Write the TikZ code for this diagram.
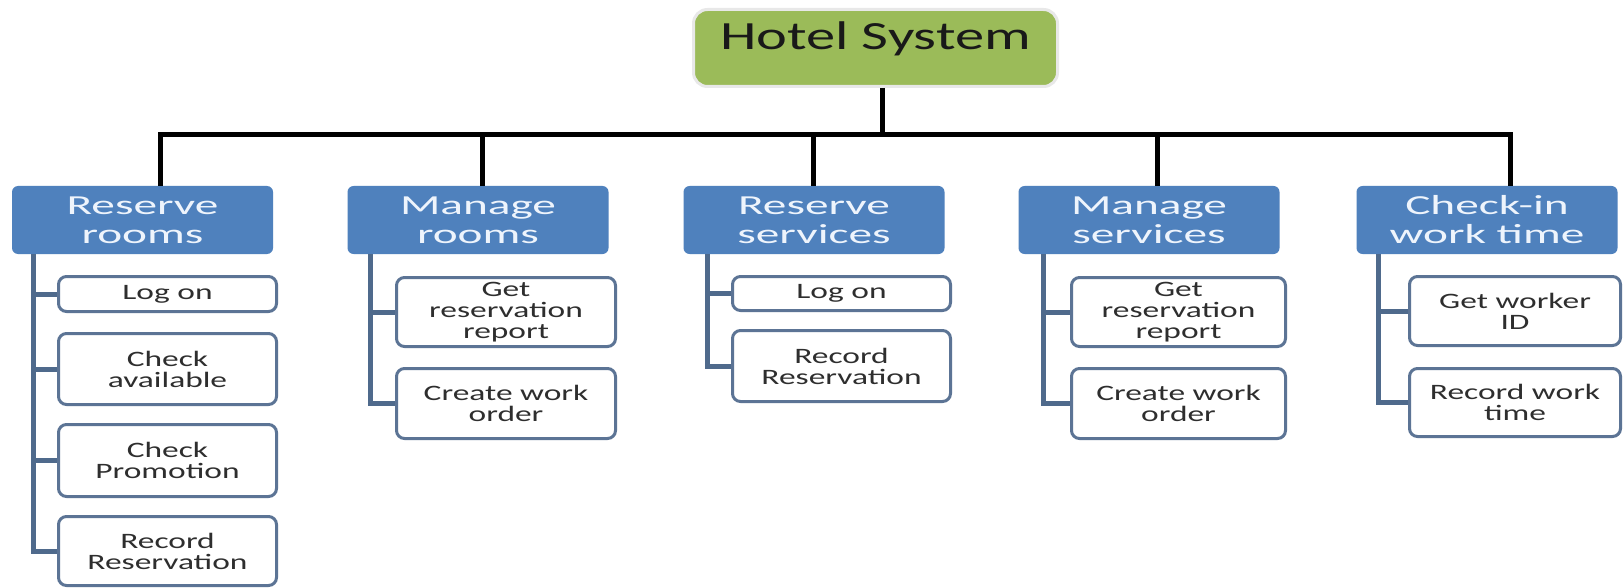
\documentclass[tikz,border=0pt]{standalone}
\usepackage{fontspec}
\setmainfont{Carlito}
\newfontfamily\topfont{Carlito}[FakeStretch=1.46]
\newfontfamily\bluefont{Carlito}[FakeStretch=1.72]
\newfontfamily\taskfont{Carlito}[FakeStretch=1.52]
\definecolor{grpblue}{HTML}{4F81BD}
\definecolor{topgreen}{HTML}{9BBB59}
\definecolor{taskedge}{HTML}{5C7495}
\definecolor{trunkcol}{HTML}{4F6A8C}
\definecolor{textgray}{HTML}{2E2E2E}
\definecolor{lighttext}{HTML}{EEF4FC}
\tikzset{
  topbox/.style={rounded corners=14pt, fill=topgreen, draw=gray!18, line width=3pt,
    minimum width=364pt, inner sep=0pt, text height=40pt, text depth=37pt,
    font=\topfont\fontsize{40}{42}\selectfont, text=black!90},
  groupbox/.style={rounded corners=6pt, fill=grpblue, text=lighttext,
    minimum width=261pt, minimum height=68pt, inner sep=0pt, align=center,
    font=\bluefont\fontsize{27.5}{29}\selectfont},
  taskbox/.style={rounded corners=8pt, fill=white, draw=taskedge, line width=3pt,
    inner sep=0pt, align=center, font=\taskfont\fontsize{22}{21}\selectfont, text=textgray},
  trunk/.style={draw=trunkcol, line width=5pt},
  link/.style={draw=black, line width=5pt, line join=miter}
}
\begin{document}
\begin{tikzpicture}[x=1pt,y=-1pt]
\useasboundingbox[fill=white] (0,0) rectangle (1624,588);
% top
\node[topbox] (top) at (875.5,48) {Hotel System};
% groups
\node[groupbox] (g1) at (142.5,220) {Reserve\\rooms};
\node[groupbox] (g2) at (478,220) {Manage\\rooms};
\node[groupbox] (g3) at (814,220) {Reserve\\services};
\node[groupbox] (g4) at (1149,220) {Manage\\services};
\node[groupbox] (g5) at (1487,220) {Check-in\\work time};
% connector coordinates
\coordinate (c0) at (882,135);
\coordinate (k1) at (160,135);
\coordinate (k2) at (482,135);
\coordinate (k3) at (813,135);
\coordinate (k4) at (1157,135);
\coordinate (k5) at (1510,135);
\draw[link] (top.south -| c0) -- (c0);
\draw[link] (g1.north -| k1) -- (k1) -- (k5) -- (g5.north -| k5);
\draw[link] (k2) -- (g2.north -| k2);
\draw[link] (k3) -- (g3.north -| k3);
\draw[link] (k4) -- (g4.north -| k4);
% trunk x coordinates
\coordinate (t1) at (33,0);
\coordinate (t2) at (370,0);
\coordinate (t3) at (707,0);
\coordinate (t4) at (1043,0);
\coordinate (t5) at (1378,0);
% group 1 tasks
\node[taskbox, minimum width=218pt, minimum height=35pt] (r1) at (167.5,294) {Log on};
\node[taskbox, minimum width=218pt, minimum height=71pt] (r2) at (167.5,369) {Check\\available};
\node[taskbox, minimum width=218pt, minimum height=72pt] (r3) at (167.5,460.5) {Check\\Promotion};
\node[taskbox, minimum width=218pt, minimum height=69pt] (r4) at (167.5,551) {Record\\Reservation};
% group 2 tasks
\node[taskbox, minimum width=219pt, minimum height=69pt] (m1) at (506,312) {Get\\reservation\\report};
\node[taskbox, minimum width=219pt, minimum height=70pt] (m2) at (506,403.5) {Create work\\order};
% group 3 tasks
\node[taskbox, minimum width=218pt, minimum height=34pt] (s1) at (841.5,293.5) {Log on};
\node[taskbox, minimum width=218pt, minimum height=71pt] (s2) at (841.5,366) {Record\\Reservation};
% group 4 tasks
\node[taskbox, minimum width=214pt, minimum height=69pt] (n1) at (1178.5,312) {Get\\reservation\\report};
\node[taskbox, minimum width=214pt, minimum height=70pt] (n2) at (1178.5,403.5) {Create work\\order};
% group 5 tasks
\node[taskbox, minimum width=211pt, minimum height=69pt] (w1) at (1515,311) {Get worker\\ID};
\node[taskbox, minimum width=211pt, minimum height=68pt] (w2) at (1515,402.5) {Record work\\time};
% trunks
\draw[trunk] (g1.south -| t1) |- (r4.west);
\draw[trunk] (r1.west -| t1) -- (r1.west);
\draw[trunk] (r2.west -| t1) -- (r2.west);
\draw[trunk] (r3.west -| t1) -- (r3.west);
\draw[trunk] (g2.south -| t2) |- (m2.west);
\draw[trunk] (m1.west -| t2) -- (m1.west);
\draw[trunk] (g3.south -| t3) |- (s2.west);
\draw[trunk] (s1.west -| t3) -- (s1.west);
\draw[trunk] (g4.south -| t4) |- (n2.west);
\draw[trunk] (n1.west -| t4) -- (n1.west);
\draw[trunk] (g5.south -| t5) |- (w2.west);
\draw[trunk] (w1.west -| t5) -- (w1.west);
\end{tikzpicture}
\end{document}
